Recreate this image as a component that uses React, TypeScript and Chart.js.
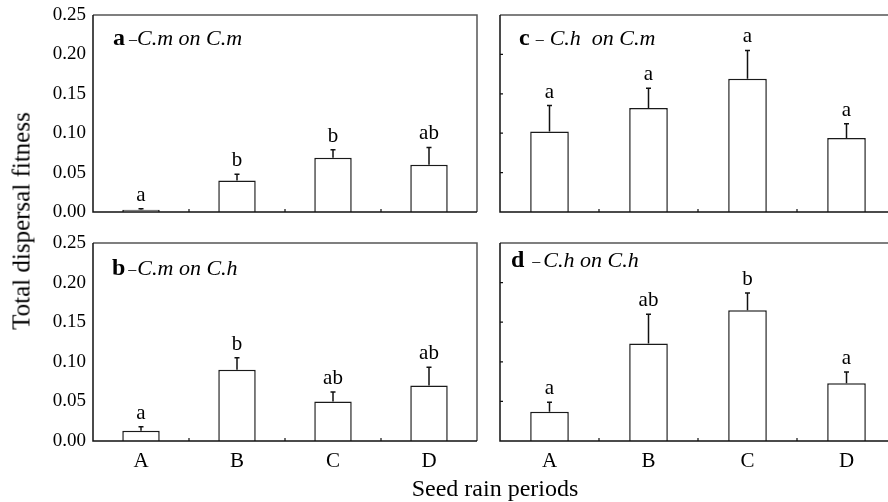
import React, { useEffect, useRef } from "react";
import { Chart, registerables } from "chart.js";

Chart.register(...registerables);

const categories = ["A", "B", "C", "D"];
const yTickValues = [0, 0.05, 0.1, 0.15, 0.2, 0.25];

const aMeans = [0.003, 0.04, 0.069, 0.06];
const aErrors = [0.001, 0.008, 0.01, 0.022];
const aLetters = ["a", "b", "b", "ab"];

const cMeans = [0.102, 0.132, 0.169, 0.094];
const cErrors = [0.033, 0.025, 0.036, 0.018];
const cLetters = ["a", "a", "a", "a"];

const bMeans = [0.013, 0.09, 0.05, 0.07];
const bErrors = [0.005, 0.015, 0.012, 0.023];
const bLetters = ["a", "b", "ab", "ab"];

const dMeans = [0.037, 0.123, 0.165, 0.073];
const dErrors = [0.012, 0.037, 0.022, 0.014];
const dLetters = ["a", "ab", "b", "a"];

const yAxisTitle = "Total dispersal fitness";
const xAxisTitle = "Seed rain periods";

const FONT = "'Liberation Serif', 'Times New Roman', serif";

type PanelSpec = {
  means: number[];
  errors: number[];
  letters: string[];
  tag: string;
  subtitle: string;
  left: number;
  top: number;
  width: number;
  height: number;
  padTop: number;
  padRight: number;
  yAxisWidth: number;
  xAxisHeight: number;
  showY: boolean;
  showX: boolean;
  innerYTicks: boolean;
  titleDx: number;
  titleDy: number;
  dashGap: number;
  afterDash: number;
};

const panels: PanelSpec[] = [
  {
    means: aMeans, errors: aErrors, letters: aLetters, tag: "a", subtitle: "C.m on C.m",
    left: 0, top: 0, width: 480, height: 224, padTop: 15, padRight: 3,
    yAxisWidth: 93, xAxisHeight: 12, showY: true, showX: false, innerYTicks: false,
    titleDx: 20, titleDy: 30, dashGap: 4, afterDash: 0,
  },
  {
    means: cMeans, errors: cErrors, letters: cLetters, tag: "c", subtitle: "C.h  on C.m",
    left: 480, top: 0, width: 420, height: 224, padTop: 15, padRight: 4,
    yAxisWidth: 20, xAxisHeight: 12, showY: false, showX: false, innerYTicks: true,
    titleDx: 19, titleDy: 30, dashGap: 6, afterDash: 6,
  },
  {
    means: bMeans, errors: bErrors, letters: bLetters, tag: "b", subtitle: "C.m on C.h",
    left: 0, top: 222, width: 480, height: 280, padTop: 21, padRight: 3,
    yAxisWidth: 93, xAxisHeight: 61, showY: true, showX: true, innerYTicks: false,
    titleDx: 19, titleDy: 32, dashGap: 3, afterDash: 1,
  },
  {
    means: dMeans, errors: dErrors, letters: dLetters, tag: "d", subtitle: "C.h on C.h",
    left: 480, top: 222, width: 420, height: 280, padTop: 21, padRight: 4,
    yAxisWidth: 20, xAxisHeight: 61, showY: false, showX: true, innerYTicks: true,
    titleDx: 11, titleDy: 24, dashGap: 8, afterDash: 3,
  },
];

function makeDecorPlugin(p: PanelSpec) {
  return {
    id: "panelDecor",
    afterDatasetsDraw(chart: any) {
      const ctx = chart.ctx as CanvasRenderingContext2D;
      const area = chart.chartArea;
      const xs = chart.scales.x;
      const ys = chart.scales.y;
      const meta = chart.getDatasetMeta(0);
      ctx.save();

      // error bars + letters
      meta.data.forEach((el: any, i: number) => {
        const x = el.x;
        const yBar = ys.getPixelForValue(p.means[i]);
        const yTop = ys.getPixelForValue(p.means[i] + p.errors[i]);
        ctx.strokeStyle = "#111";
        ctx.lineWidth = 1.5;
        ctx.beginPath();
        ctx.moveTo(x, yBar);
        ctx.lineTo(x, yTop);
        ctx.moveTo(x - 2.5, yTop);
        ctx.lineTo(x + 2.5, yTop);
        ctx.stroke();
        ctx.fillStyle = "#000";
        ctx.font = `21px ${FONT}`;
        ctx.textAlign = "center";
        ctx.textBaseline = "alphabetic";
        ctx.fillText(p.letters[i], x, yTop - 8);
      });

      // frame
      ctx.lineWidth = 1.5;
      ctx.strokeStyle = "#555";
      ctx.beginPath();
      ctx.moveTo(area.left, area.top);
      ctx.lineTo(area.right, area.top);
      ctx.lineTo(area.right, area.bottom);
      ctx.stroke();
      ctx.strokeStyle = "#111";
      ctx.beginPath();
      ctx.moveTo(area.left, area.top);
      ctx.lineTo(area.left, area.bottom);
      ctx.lineTo(area.right, area.bottom);
      ctx.stroke();

      // inward x ticks at category boundaries
      ctx.lineWidth = 1.2;
      ctx.beginPath();
      for (let i = 1; i < categories.length; i++) {
        const bx = (xs.getPixelForValue(i - 1) + xs.getPixelForValue(i)) / 2;
        ctx.moveTo(bx, area.bottom);
        ctx.lineTo(bx, area.bottom - 3);
      }
      if (p.innerYTicks) {
        yTickValues.slice(1, -1).forEach((v) => {
          const py = ys.getPixelForValue(v);
          ctx.moveTo(area.left, py);
          ctx.lineTo(area.left + 3, py);
        });
      }
      ctx.stroke();

      // panel title
      let tx = area.left + p.titleDx;
      const ty = area.top + p.titleDy;
      ctx.textAlign = "left";
      ctx.textBaseline = "alphabetic";
      ctx.fillStyle = "#000";
      ctx.font = `bold 24px ${FONT}`;
      ctx.fillText(p.tag, tx, ty);
      tx += ctx.measureText(p.tag).width + p.dashGap;
      ctx.font = `16px ${FONT}`;
      ctx.fillText("\u2013", tx, ty - 1);
      tx += ctx.measureText("\u2013").width + p.afterDash;
      ctx.font = `italic 22px ${FONT}`;
      ctx.fillText(p.subtitle, tx, ty);

      ctx.restore();
    },
  };
}

function Panel({ p }: { p: PanelSpec }) {
  const ref = useRef<HTMLCanvasElement | null>(null);
  useEffect(() => {
    if (!ref.current) return;
    const chart = new Chart(ref.current, {
      type: "bar",
      data: {
        labels: categories,
        datasets: [
          {
            data: p.means,
            backgroundColor: "#ffffff",
            borderColor: "#1a1a1a",
            borderWidth: 1.5,
            barPercentage: 0.39,
            categoryPercentage: 1,
          },
        ],
      },
      options: {
        animation: false,
        responsive: false,
        events: [],
        layout: { padding: { left: 0, right: p.padRight, top: p.padTop, bottom: 0 } },
        plugins: { legend: { display: false }, tooltip: { enabled: false } },
        scales: {
          x: {
            type: "category",
            offset: true,
            grid: { display: false, drawTicks: false },
            border: { display: false },
            ticks: {
              display: p.showX,
              color: "#000",
              font: { family: FONT, size: 21 },
              padding: 8,
              maxRotation: 0,
            },
            afterFit: (s: any) => {
              s.height = p.xAxisHeight;
              s.paddingLeft = 0;
              s.paddingRight = 0;
            },
          },
          y: {
            min: 0,
            max: 0.25,
            afterBuildTicks: (s: any) => {
              s.ticks = yTickValues.map((v) => ({ value: v }));
            },
            grid: { display: false, drawTicks: false },
            border: { display: false },
            ticks: {
              display: p.showY,
              color: "#000",
              font: { family: FONT, size: 19 },
              padding: 7,
              callback: (v: any) => Number(v).toFixed(2),
            },
            afterFit: (s: any) => {
              s.width = p.yAxisWidth;
              s.paddingTop = 0;
              s.paddingBottom = 0;
            },
          },
        },
      } as any,
      plugins: [makeDecorPlugin(p)],
    });
    return () => chart.destroy();
  }, [p]);
  return (
    <canvas
      ref={ref}
      width={p.width}
      height={p.height}
      style={{ position: "absolute", left: p.left, top: p.top, width: p.width, height: p.height }}
    />
  );
}

export default function App() {
  return (
    <div
      style={{
        position: "absolute",
        left: 0,
        top: 0,
        width: 888,
        height: 502,
        overflow: "hidden",
        background: "#fff",
        fontFamily: FONT,
        color: "#000",
      }}
    >
      {panels.map((p, i) => (
        <Panel key={i} p={p} />
      ))}
      <div
        style={{
          position: "absolute",
          left: 21,
          top: 220.5,
          transform: "translate(-50%, -50%) rotate(-90deg)",
          whiteSpace: "nowrap",
          fontSize: 25,
          lineHeight: "25px",
        }}
      >
        {yAxisTitle}
      </div>
      <div
        style={{
          position: "absolute",
          left: 495,
          top: 476,
          transform: "translateX(-50%)",
          whiteSpace: "nowrap",
          fontSize: 24,
          lineHeight: "24px",
        }}
      >
        {xAxisTitle}
      </div>
    </div>
  );
}
